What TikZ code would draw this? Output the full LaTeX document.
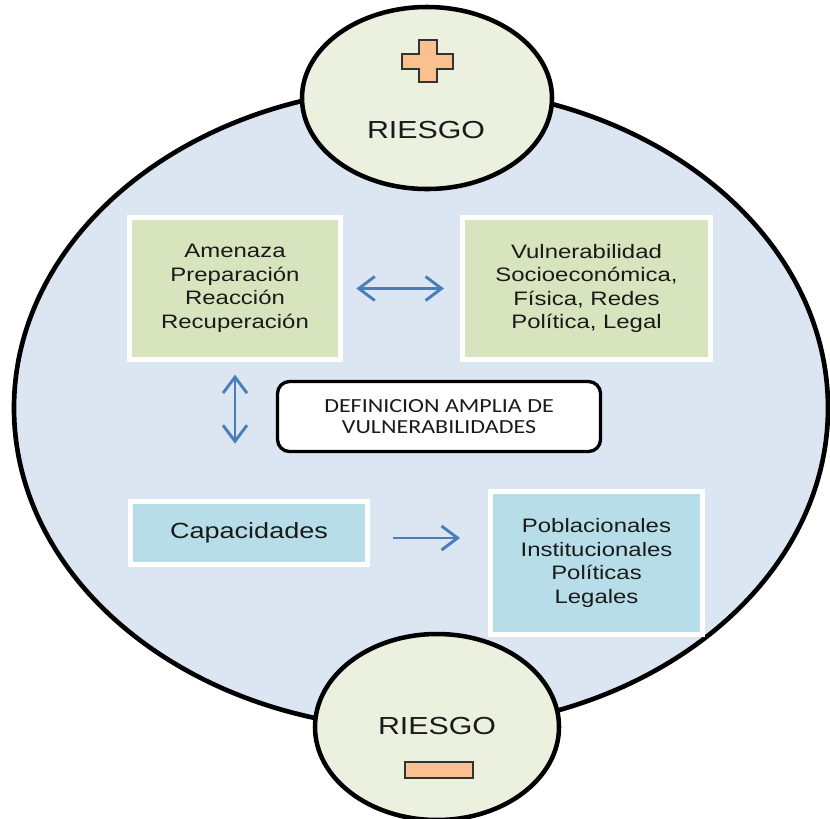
\documentclass[tikz,border=0pt]{standalone}
\usepackage{fontspec}
\setmainfont{Liberation Sans}
\newfontfamily\arialw[FakeStretch=1.23]{Liberation Sans}
\newfontfamily\calibriw[FakeStretch=1.2]{Carlito}
\usetikzlibrary{arrows.meta}

\definecolor{fondo}{HTML}{DCE6F2}
\definecolor{crema}{HTML}{EBF1DE}
\definecolor{verde}{HTML}{D7E4BD}
\definecolor{celeste}{HTML}{B7DEE8}
\definecolor{azul}{HTML}{4A7EBB}
\definecolor{melocoton}{HTML}{FAC090}
\definecolor{texto}{HTML}{1A1A1A}

\tikzset{
  circulo/.style={draw=black, line width=3.4pt, fill=crema},
  signo/.style={draw=black!80, line width=1.5pt, fill=melocoton},
  titulo/.style={inner sep=0pt, text=texto, font=\arialw\fontsize{18.5pt}{22pt}\selectfont},
  caja/.style={draw=white, line width=3.75pt, inner sep=0pt, align=center, text=texto,
    font=\arialw\fontsize{14.6pt}{17.6pt}\selectfont},
  definicion/.style={draw=black, line width=2.5pt, rounded corners=9pt, fill=white,
    minimum width=242.25pt, minimum height=52.5pt, align=center, text=texto,
    font=\calibriw\fontsize{15pt}{16pt}\selectfont},
  flecha/.style={draw=azul, line width=2.2pt}
}

\begin{document}
\begin{tikzpicture}[x=0.75pt, y=-0.75pt, >={Straight Barb[length=12pt,width=18pt]}]
  % 画布
  \useasboundingbox (0,0) rectangle (830,818);

  % 大椭圆
  \draw[line width=3.5pt, fill=fondo] (421,408) ellipse [x radius=305.25pt, y radius=240.75pt];

  % 上下两个圆
  \draw[circulo] (427,98) ellipse [x radius=93.75pt, y radius=68.25pt];
  \draw[circulo] (437,727) ellipse [x radius=91.5pt, y radius=69.75pt];

  % 加号和减号
  \draw[signo] (418.5,40) -- (436.5,40) -- (436.5,53.5) -- (453,53.5) -- (453,68.5)
    -- (436.5,68.5) -- (436.5,82) -- (418.5,82) -- (418.5,68.5) -- (402,68.5)
    -- (402,53.5) -- (418.5,53.5) -- cycle;
  \draw[signo] (405,762) rectangle (473,778);

  % 风险文字
  \node[titulo] (riesgoA) at (426,130) {RIESGO};
  \node[titulo] (riesgoB) at (437,726) {RIESGO};

  % 方框
  \node[caja, fill=verde, minimum width=158.25pt, minimum height=106.5pt] (amenaza) at (235,288.5)
    {Amenaza\\Preparación\\Reacción\\Recuperación};
  \node[caja, fill=verde, minimum width=186pt, minimum height=106.5pt] (vulner) at (586.5,288.5)
    {Vulnerabilidad\\Socioeconómica,\\Física, Redes\\Política, Legal};
  \node[caja, fill=celeste, minimum width=177.75pt, minimum height=47.25pt,
    font=\arialw\fontsize{16.5pt}{19pt}\selectfont] (capac) at (249,533) {Capacidades};
  \node[caja, fill=celeste, minimum width=159pt, minimum height=107.25pt] (pobl) at (596.5,563)
    {Poblacionales\\Institucionales\\Políticas\\Legales};
  \node[definicion] (defin) at (439,416.5) {DEFINICION AMPLIA DE\\VULNERABILIDADES};

  % 箭头
  \draw[flecha, <->, shorten <=10pt, shorten >=12pt] (amenaza) -- (vulner);
  \draw[flecha, <->, shorten <=9.5pt, shorten >=41.5pt] (amenaza.south) -- (amenaza.south |- capac.north);
  \draw[flecha, ->, shorten <=17pt, shorten >=21pt] ([yshift=-3.75pt]capac.east) -- ([yshift=-3.75pt]capac.east -| pobl.west);
\end{tikzpicture}
\end{document}
